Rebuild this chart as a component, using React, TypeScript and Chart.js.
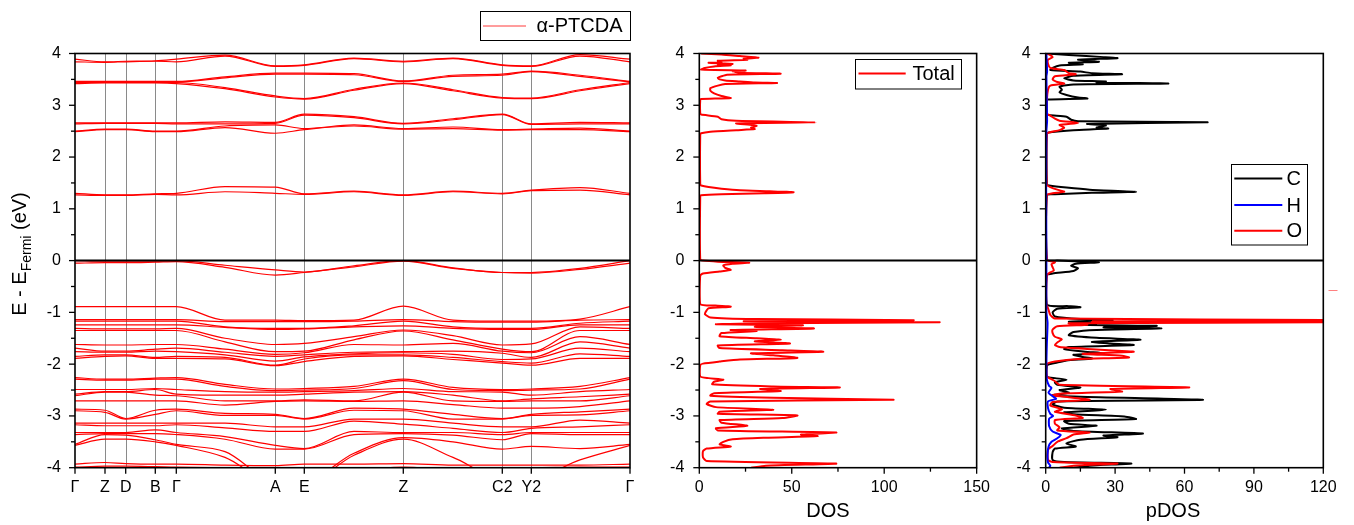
import React, { useEffect, useRef } from 'react';
import { Chart, registerables } from 'chart.js';

Chart.register(...registerables);

const FONT = '"Liberation Sans", Arial, Helvetica, sans-serif';
const RED = '#ff0000';

// ---------- k-path (band structure) ----------
const kPath = [0, 30, 50.7, 80.3, 101.3, 150, 200.3, 229.3, 279, 328.3, 378, 427.3, 456.3, 505, 555];
const kTicks = [0, 30, 50.7, 80.3, 101.3, 200.3, 229.3, 328.3, 427.3, 456.3, 555];
const kLabels = ['Γ', 'Z', 'D', 'B', 'Γ', 'A', 'E', 'Z', 'C2', 'Y2', 'Γ'];
const kLines = [30, 50.7, 80.3, 101.3, 200.3, 229.3, 328.3, 427.3, 456.3];

// conduction bands (energy in eV at each kPath point)
const conductionBands = [
  [1.27, 1.26, 1.26, 1.28, 1.27, 1.33, 1.30, 1.28, 1.33, 1.26, 1.33, 1.29, 1.35, 1.36, 1.27],
  [1.30, 1.27, 1.27, 1.29, 1.30, 1.43, 1.42, 1.29, 1.34, 1.27, 1.34, 1.30, 1.36, 1.41, 1.30],
  [2.49, 2.53, 2.53, 2.49, 2.49, 2.57, 2.46, 2.53, 2.60, 2.54, 2.55, 2.52, 2.53, 2.53, 2.49],
  [2.50, 2.54, 2.54, 2.50, 2.50, 2.60, 2.62, 2.55, 2.62, 2.55, 2.58, 2.53, 2.54, 2.56, 2.50],
  [2.64, 2.65, 2.65, 2.65, 2.64, 2.64, 2.65, 2.81, 2.76, 2.64, 2.72, 2.82, 2.63, 2.64, 2.64],
  [2.66, 2.66, 2.66, 2.66, 2.66, 2.68, 2.67, 2.83, 2.78, 2.65, 2.74, 2.83, 2.64, 2.67, 2.66],
  [3.42, 3.43, 3.43, 3.43, 3.42, 3.32, 3.16, 3.12, 3.29, 3.42, 3.28, 3.14, 3.13, 3.28, 3.42],
  [3.44, 3.44, 3.44, 3.44, 3.44, 3.34, 3.18, 3.13, 3.31, 3.43, 3.30, 3.15, 3.14, 3.30, 3.44],
  [3.45, 3.45, 3.45, 3.45, 3.45, 3.53, 3.60, 3.60, 3.59, 3.46, 3.56, 3.58, 3.65, 3.56, 3.45],
  [3.46, 3.46, 3.46, 3.46, 3.46, 3.55, 3.62, 3.62, 3.61, 3.47, 3.58, 3.60, 3.66, 3.58, 3.46],
  [3.84, 3.83, 3.84, 3.85, 3.84, 3.95, 3.75, 3.77, 3.90, 3.84, 3.90, 3.77, 3.75, 3.95, 3.84],
  [3.89, 3.84, 3.85, 3.86, 3.89, 3.97, 3.76, 3.78, 3.91, 3.85, 3.91, 3.78, 3.76, 3.98, 3.89],
];

const valenceTopBands = [
  [0.00, -0.01, -0.01, -0.01, 0.00, -0.09, -0.18, -0.22, -0.10, 0.00, -0.14, -0.23, -0.23, -0.15, 0.00],
  [-0.05, -0.04, -0.04, -0.03, -0.02, -0.13, -0.28, -0.23, -0.12, -0.01, -0.15, -0.23, -0.24, -0.17, -0.05],
];

const valenceMidBands = [
  [-0.89, -0.89, -0.89, -0.89, -0.89, -1.15, -1.15, -1.16, -1.15, -0.88, -1.15, -1.17, -1.17, -1.13, -0.89],
  [-1.14, -1.14, -1.14, -1.14, -1.14, -1.18, -1.18, -1.18, -1.17, -1.14, -1.18, -1.19, -1.19, -1.15, -1.14],
  [-1.17, -1.17, -1.17, -1.17, -1.17, -1.28, -1.31, -1.31, -1.26, -1.17, -1.28, -1.31, -1.31, -1.21, -1.17],
  [-1.24, -1.24, -1.24, -1.24, -1.24, -1.29, -1.33, -1.32, -1.28, -1.26, -1.31, -1.33, -1.33, -1.24, -1.24],
  [-1.31, -1.32, -1.32, -1.32, -1.31, -1.50, -1.62, -1.60, -1.47, -1.34, -1.45, -1.63, -1.61, -1.28, -1.31],
  [-1.35, -1.35, -1.35, -1.35, -1.35, -1.57, -1.76, -1.75, -1.53, -1.36, -1.53, -1.71, -1.76, -1.35, -1.35],
  [-1.62, -1.63, -1.63, -1.62, -1.62, -1.71, -1.81, -1.78, -1.62, -1.63, -1.60, -1.75, -1.78, -1.47, -1.62],
  [-1.69, -1.75, -1.75, -1.71, -1.69, -1.77, -1.85, -1.82, -1.77, -1.76, -1.75, -1.79, -1.87, -1.57, -1.69],
  [-1.76, -1.77, -1.77, -1.75, -1.76, -1.82, -1.94, -1.86, -1.80, -1.78, -1.81, -1.91, -1.90, -1.69, -1.76],
  [-1.85, -1.82, -1.82, -1.87, -1.85, -1.87, -2.02, -1.90, -1.82, -1.82, -1.87, -1.95, -1.98, -1.80, -1.85],
  [-1.89, -1.85, -1.84, -1.89, -1.89, -1.90, -2.03, -1.95, -1.85, -1.84, -1.91, -1.98, -2.02, -1.89, -1.89],
];

const valenceLowBands = [
  [-2.26, -2.29, -2.29, -2.27, -2.26, -2.39, -2.48, -2.47, -2.43, -2.29, -2.45, -2.49, -2.48, -2.43, -2.26],
  [-2.29, -2.31, -2.31, -2.29, -2.29, -2.43, -2.51, -2.50, -2.47, -2.32, -2.49, -2.51, -2.50, -2.48, -2.29],
  [-2.49, -2.49, -2.49, -2.47, -2.49, -2.53, -2.54, -2.53, -2.51, -2.47, -2.53, -2.54, -2.60, -2.53, -2.49],
  [-2.58, -2.53, -2.53, -2.49, -2.58, -2.60, -2.60, -2.58, -2.54, -2.53, -2.60, -2.71, -2.67, -2.63, -2.58],
  [-2.61, -2.54, -2.54, -2.60, -2.61, -2.71, -2.71, -2.69, -2.71, -2.54, -2.71, -2.72, -2.71, -2.71, -2.61],
  [-2.71, -2.71, -2.71, -2.71, -2.71, -2.79, -2.72, -2.71, -2.72, -2.71, -2.78, -2.85, -2.85, -2.82, -2.71],
  [-2.87, -2.89, -3.05, -2.89, -2.87, -2.95, -2.97, -3.05, -2.85, -2.87, -2.97, -3.05, -2.97, -2.92, -2.87],
  [-2.90, -2.93, -3.06, -2.97, -2.90, -2.99, -2.99, -3.06, -2.89, -2.90, -3.06, -3.06, -2.99, -2.98, -2.90],
  [-3.14, -3.14, -3.14, -3.14, -3.14, -3.14, -3.21, -3.21, -3.06, -3.06, -3.14, -3.21, -3.21, -3.08, -3.14],
  [-3.17, -3.19, -3.19, -3.19, -3.17, -3.23, -3.30, -3.30, -3.10, -3.16, -3.24, -3.32, -3.24, -3.21, -3.17],
  [-3.32, -3.32, -3.32, -3.27, -3.32, -3.40, -3.57, -3.63, -3.30, -3.32, -3.32, -3.36, -3.32, -3.32, -3.32],
  [-3.36, -3.34, -3.34, -3.34, -3.36, -3.45, -3.64, -3.64, -3.36, -3.34, -3.37, -3.46, -3.34, -3.36, -3.36],
  [-3.55, -3.36, -3.37, -3.46, -3.55, -3.69, -4.25, -4.25, -3.72, -3.42, -3.50, -3.64, -3.59, -3.63, -3.55],
  [-3.57, -3.45, -3.45, -3.50, -3.57, -3.80, -4.30, -4.30, -3.76, -3.45, -3.80, -4.20, -4.20, -3.85, -3.57],
  [-3.93, -3.90, -3.92, -3.93, -3.93, -3.95, -3.96, -3.93, -3.93, -3.92, -3.95, -3.95, -3.95, -3.95, -3.93],
  [-3.99, -3.97, -3.97, -3.98, -3.99, -4.00, -4.08, -4.01, -4.05, -3.99, -4.04, -4.00, -4.00, -3.99, -3.99],
];

// ---------- total DOS ----------
const totalE = [4.00, 3.98, 3.95, 3.92, 3.90, 3.88, 3.86, 3.83, 3.82, 3.80, 3.78, 3.77, 3.75, 3.72, 3.69, 3.67, 3.66, 3.63, 3.61, 3.59, 3.56, 3.53, 3.50, 3.48, 3.46, 3.44, 3.43, 3.41, 3.38, 3.33, 3.28, 3.23, 3.18, 3.14, 3.12, 3.10,
  2.84, 2.82, 2.78, 2.73, 2.70, 2.67, 2.65, 2.62, 2.60, 2.57, 2.54, 2.52, 2.49, 2.46, 2.43,
  1.47, 1.45, 1.42, 1.39, 1.36, 1.34, 1.32, 1.30, 1.28, 1.26, 1.24,
  0.02, 0.00, -0.02, -0.04, -0.06, -0.09, -0.14, -0.18, -0.21, -0.25, -0.29,
  -0.84, -0.87, -0.89, -0.92, -0.96, -1.03, -1.10, -1.13, -1.15, -1.17, -1.19, -1.21, -1.23, -1.25, -1.28, -1.31, -1.34, -1.36, -1.40, -1.46, -1.50, -1.53, -1.56, -1.60, -1.64, -1.69, -1.73, -1.76, -1.79, -1.83, -1.88, -1.91, -1.95, -1.99, -2.02,
  -2.24, -2.27, -2.30, -2.34, -2.39, -2.43, -2.45, -2.48, -2.52, -2.56, -2.61, -2.65, -2.69, -2.72, -2.77, -2.83, -2.88, -2.92, -2.96, -2.99, -3.04, -3.08, -3.13, -3.19, -3.24, -3.28, -3.32, -3.36, -3.39, -3.42, -3.45, -3.50, -3.55, -3.59, -3.63, -3.68, -3.80, -3.87, -3.92, -3.96, -4.00];
const totalDOS = [1, 12, 22, 32, 24, 26, 10, 12, 5, 18, 10, 17, 8, 3, 1, 25, 18, 22, 44, 15, 12, 10, 11, 14, 22, 30, 42, 14, 10, 6, 6, 8, 12, 17, 1, 0.5,
  0.5, 1, 10, 12, 20, 63, 20, 29, 31, 28, 30, 20, 6, 1, 0.5,
  0.5, 1, 5, 12, 22, 38, 51, 35, 12, 1, 0.5,
  0.5, 2, 10, 27, 18, 13, 14, 17, 11, 2, 0.5,
  0.5, 10, 17, 5, 4, 3, 6, 30, 116, 24, 130, 40, 9, 56, 30, 62, 17, 31, 12, 11, 31, 44, 30, 49, 10, 11, 45, 67, 28, 40, 53, 22, 11, 2, 0.5,
  0.5, 5, 13, 8, 7, 40, 76, 33, 44, 8, 6, 40, 105, 6, 4, 9, 40, 11, 10, 53, 45, 11, 12, 26, 9, 10, 74, 55, 64, 36, 18, 13, 11, 17, 4, 2, 2, 4, 74, 36, 28];

// ---------- projected DOS ----------
const carbonE = [4.00, 3.97, 3.93, 3.91, 3.88, 3.84, 3.82, 3.79, 3.77, 3.72, 3.68, 3.65, 3.62, 3.60, 3.57, 3.52, 3.48, 3.46, 3.44, 3.42, 3.40, 3.36, 3.30, 3.25, 3.20, 3.15, 3.13, 3.11, 3.09,
  2.84, 2.81, 2.78, 2.72, 2.69, 2.67, 2.64, 2.61, 2.57, 2.55, 2.52, 2.48, 2.45,
  1.47, 1.45, 1.41, 1.37, 1.33, 1.31, 1.28, 1.26,
  0.02, 0.00, -0.03, -0.06, -0.10, -0.15, -0.20, -0.25, -0.28,
  -0.85, -0.88, -0.90, -0.93, -1.00, -1.08, -1.13, -1.15, -1.18, -1.21, -1.24, -1.26, -1.29, -1.31, -1.34, -1.38, -1.44, -1.49, -1.53, -1.57, -1.60, -1.63, -1.67, -1.71, -1.76, -1.79, -1.82, -1.86, -1.89, -1.93, -1.97, -2.01, -2.03,
  -2.24, -2.27, -2.30, -2.35, -2.40, -2.45, -2.50, -2.55, -2.60, -2.63, -2.69, -2.72, -2.78, -2.84, -2.88, -2.93, -2.97, -3.01, -3.06, -3.10, -3.15, -3.19, -3.24, -3.29, -3.34, -3.38, -3.41, -3.46, -3.53, -3.59, -3.63, -3.70, -3.85, -3.89, -3.92, -3.96, -4.00];
const carbonDOS = [0.5, 10, 25, 31, 14, 23, 10, 16, 6, 3, 2, 15, 20, 33, 12, 8, 12, 26, 22, 53, 12, 6, 7, 6, 9, 14, 18, 1, 0.5,
  0.5, 1.5, 9, 11, 14, 70, 18, 26, 22, 27, 12, 2, 0.5,
  0.5, 1.5, 9, 19, 39, 20, 4, 0.5,
  0.5, 5, 23, 13, 11, 14, 12, 3, 0.5,
  0.5, 10, 15, 5, 3, 4, 15, 29, 10, 22, 15, 48, 25, 50, 22, 12, 10, 22, 41, 20, 28, 38, 10, 8, 17, 25, 12, 16, 20, 9, 5, 1, 0.5,
  0.5, 4, 9, 4, 5, 15, 6, 10, 3, 15, 68, 5, 3, 8, 26, 8, 12, 34, 39, 8, 10, 22, 7, 12, 42, 25, 31, 15, 9, 13, 4, 3, 3, 8, 37, 19, 12];

const hydrogenE = [4.0, 3.65, 3.55, 2.7, 2.5, 1.4, 0, -1.0, -1.2, -1.6, -2.0, -2.3, -2.42, -2.46, -2.55, -2.62, -2.67, -2.72, -2.85, -2.96, -3.0, -3.05, -3.2, -3.3, -3.37, -3.43, -3.5, -3.6, -3.75, -3.9, -3.96, -4.0];
const hydrogenDOS = [0.3, 0.6, 0.3, 0.6, 0.3, 0.2, 0.3, 0.3, 0.8, 0.5, 0.3, 0.5, 1.5, 2.5, 1.2, 3, 4.5, 1, 1, 2, 3.2, 1.5, 1.5, 3, 6.5, 5, 2.5, 1.2, 0.8, 1, 2, 1.5];

const oxygenE = [4.00, 3.97, 3.93, 3.88, 3.80, 3.72, 3.68, 3.62, 3.60, 3.56, 3.50, 3.45, 3.42, 3.38, 3.30, 3.10,
  2.84, 2.80, 2.74, 2.70, 2.66, 2.62, 2.57, 2.52, 2.48, 2.45,
  1.46, 1.42, 1.37, 1.33, 1.30, 1.27,
  0.02, -0.03, -0.07, -0.13, -0.19, -0.24, -0.28,
  -0.85, -0.92, -1.05, -1.12, -1.15, -1.17, -1.19, -1.21, -1.24, -1.27, -1.33, -1.40, -1.47, -1.52, -1.58, -1.63, -1.67, -1.71, -1.74, -1.76, -1.80, -1.84, -1.87, -1.90, -1.95, -2.00,
  -2.24, -2.28, -2.33, -2.40, -2.45, -2.48, -2.53, -2.57, -2.60, -2.64, -2.69, -2.73, -2.80, -2.87, -2.92, -2.99, -3.04, -3.08, -3.15, -3.22, -3.28, -3.32, -3.36, -3.43, -3.50, -3.58, -3.65, -3.85, -3.89, -3.92, -3.96, -4.00];
const oxygenDOS = [0.5, 2, 3, 1, 1, 2, 8, 10, 13, 4, 3, 5, 8, 2, 1, 0.5,
  0.5, 2, 4, 6, 14, 6, 8, 6, 2, 0.5,
  0.5, 2, 5, 8, 3, 0.5,
  0.5, 4, 2.5, 3, 3.5, 1.5, 0.5,
  0.3, 1, 2, 4, 135, 20, 135, 10, 18, 5, 3, 3, 4, 7, 5, 4, 6, 20, 31, 38, 16, 33, 36, 14, 4, 0.5,
  0.5, 2, 4, 6, 62, 28, 33, 6, 3, 10, 19, 3, 2, 7, 4, 13, 16, 4, 4, 6, 5, 19, 12, 9, 5, 3, 1, 1, 3, 31, 12, 6];

const energyTicks = [-4, -3, -2, -1, 0, 1, 2, 3, 4];
const dosTicks = [0, 50, 100, 150];
const dosMinor = [25, 75, 125];
const pdosTicks = [0, 30, 60, 90, 120];
const pdosMinor = [15, 45, 75, 105];

// ---------- helpers ----------
function bandSets(bands: number[][]) {
  return bands.map((b) => ({
    data: b.map((e, i) => ({ x: kPath[i], y: e })),
    borderColor: RED,
    borderWidth: 1.2,
    pointRadius: 0,
    fill: false,
    cubicInterpolationMode: 'monotone' as const,
  }));
}

function dosSet(es: number[], vs: number[], color: string, order: number) {
  const n = Math.min(es.length, vs.length);
  const data = [] as { x: number; y: number }[];
  for (let i = 0; i < n; i++) data.push({ x: vs[i], y: es[i] });
  return { data, borderColor: color, borderWidth: 2, pointRadius: 0, fill: false, tension: 0.2, order };
}

function seg(ctx: CanvasRenderingContext2D, x1: number, y1: number, x2: number, y2: number) {
  ctx.beginPath();
  ctx.moveTo(x1, y1);
  ctx.lineTo(x2, y2);
  ctx.stroke();
}

type Spec = {
  xMajor: number[];
  xMinor: number[];
  vLines?: number[];
  extra?: (ctx: CanvasRenderingContext2D) => void;
};

function decor(spec: Spec) {
  return {
    id: 'decor',
    beforeDatasetsDraw(chart: any) {
      const { ctx, chartArea: a, scales } = chart;
      if (spec.vLines) {
        ctx.save();
        ctx.strokeStyle = '#8a8a8a';
        ctx.lineWidth = 1;
        for (const v of spec.vLines) {
          const px = Math.round(scales.x.getPixelForValue(v)) + 0.5;
          seg(ctx, px, a.top, px, a.bottom);
        }
        ctx.restore();
      }
    },
    afterDatasetsDraw(chart: any) {
      const { ctx, chartArea: a, scales } = chart;
      ctx.save();
      ctx.strokeStyle = '#000';
      const y0 = scales.y.getPixelForValue(0);
      ctx.lineWidth = 2;
      seg(ctx, a.left, y0, a.right, y0);
      ctx.lineWidth = 1.6;
      ctx.strokeRect(a.left, a.top, a.right - a.left, a.bottom - a.top);
      ctx.lineWidth = 1.3;
      for (let v = -4; v <= 4.001; v += 0.5) {
        const py = scales.y.getPixelForValue(v);
        const len = Math.abs(v - Math.round(v)) < 1e-6 ? 6 : 4;
        seg(ctx, a.left - len, py, a.left, py);
      }
      for (const v of spec.xMajor) {
        const px = scales.x.getPixelForValue(v);
        seg(ctx, px, a.bottom, px, a.bottom + 6);
      }
      for (const v of spec.xMinor) {
        const px = scales.x.getPixelForValue(v);
        seg(ctx, px, a.bottom, px, a.bottom + 4);
      }
      ctx.restore();
      if (spec.extra) {
        ctx.save();
        spec.extra(ctx);
        ctx.restore();
      }
    },
  };
}

const tickFont = { family: FONT, size: 16 };

function yAxis(width: number, pad: number) {
  return {
    type: 'linear' as const,
    min: -4,
    max: 4,
    afterFit: (s: any) => { s.width = width; },
    afterBuildTicks: (s: any) => { s.ticks = energyTicks.map((v) => ({ value: v })); },
    ticks: { font: tickFont, color: '#000', padding: pad },
    grid: { display: false, drawTicks: false },
    border: { display: false },
  };
}

function xAxis(min: number, max: number, ticks: number[], labels: string[] | null) {
  return {
    type: 'linear' as const,
    min,
    max,
    afterFit: (s: any) => { s.height = 57.3; },
    afterBuildTicks: (s: any) => { s.ticks = ticks.map((v) => ({ value: v })); },
    ticks: {
      font: tickFont,
      color: '#000',
      padding: 10,
      autoSkip: false,
      maxRotation: 0,
      callback: (v: any, i: number) => (labels ? labels[i] : String(v)),
    },
    grid: { display: false, drawTicks: false },
    border: { display: false },
  };
}

const baseOpts = {
  responsive: false,
  animation: false as const,
  events: [] as any[],
  plugins: { legend: { display: false }, tooltip: { enabled: false } },
};

function bandConfig(): any {
  return {
    type: 'line',
    data: {
      datasets: [
        ...bandSets(conductionBands),
        ...bandSets(valenceTopBands),
        ...bandSets(valenceMidBands),
        ...bandSets(valenceLowBands),
      ],
    },
    options: {
      ...baseOpts,
      layout: { padding: { top: 53.5, right: 15, left: 0, bottom: 0 } },
      scales: { x: xAxis(0, 555, kTicks, kLabels), y: yAxis(75, 14) },
    },
    plugins: [
      decor({
        xMajor: kTicks,
        xMinor: [],
        vLines: kLines,
        extra: (ctx) => {
          // legend
          ctx.strokeStyle = '#000';
          ctx.lineWidth = 1;
          ctx.strokeRect(480.5, 11.5, 150, 29);
          ctx.strokeStyle = '#ff3a3a';
          ctx.lineWidth = 1;
          seg(ctx, 483, 26, 526, 26);
          ctx.fillStyle = '#000';
          ctx.font = `20px ${FONT}`;
          ctx.textAlign = 'left';
          ctx.textBaseline = 'middle';
          ctx.fillText('α-PTCDA', 536.5, 26.5);
          // y title
          ctx.textBaseline = 'alphabetic';
          ctx.font = `20px ${FONT}`;
          const w1 = ctx.measureText('E - E').width;
          const w3 = ctx.measureText(' (eV)').width;
          ctx.font = `14px ${FONT}`;
          const w2 = ctx.measureText('Fermi').width;
          const total = w1 + w2 + w3;
          ctx.translate(25.5, 254 + total / 2);
          ctx.rotate(-Math.PI / 2);
          ctx.font = `20px ${FONT}`;
          ctx.fillText('E - E', 0, 0);
          ctx.font = `14px ${FONT}`;
          ctx.fillText('Fermi', w1, 5);
          ctx.font = `20px ${FONT}`;
          ctx.fillText(' (eV)', w1 + w2, 0);
        },
      }),
    ],
  };
}

function dosConfig(): any {
  return {
    type: 'line',
    data: { datasets: [dosSet(totalE, totalDOS, RED, 0)] },
    options: {
      ...baseOpts,
      layout: { padding: { top: 53.5, right: 23.3, left: 0, bottom: 0 } },
      scales: { x: xAxis(0, 150, dosTicks, null), y: yAxis(54.3, 15) },
    },
    plugins: [
      decor({
        xMajor: dosTicks,
        xMinor: dosMinor,
        extra: (ctx) => {
          ctx.strokeStyle = '#000';
          ctx.lineWidth = 1;
          ctx.strokeRect(210.5, 59.5, 106, 29.5);
          ctx.strokeStyle = RED;
          ctx.lineWidth = 2;
          seg(ctx, 213.5, 73.5, 260.7, 73.5);
          ctx.fillStyle = '#000';
          ctx.font = `20px ${FONT}`;
          ctx.textAlign = 'left';
          ctx.textBaseline = 'middle';
          ctx.fillText('Total', 267.5, 74.5);
          ctx.textAlign = 'center';
          ctx.textBaseline = 'alphabetic';
          ctx.fillText('DOS', 183, 516.5);
        },
      }),
    ],
  };
}

function pdosConfig(): any {
  return {
    type: 'line',
    data: {
      datasets: [
        dosSet(hydrogenE, hydrogenDOS, '#0000ff', 0),
        dosSet(oxygenE, oxygenDOS, RED, 1),
        dosSet(carbonE, carbonDOS, '#000000', 2),
      ],
    },
    options: {
      ...baseOpts,
      layout: { padding: { top: 53.5, right: 30.7, left: 0, bottom: 0 } },
      scales: { x: xAxis(0, 120, pdosTicks, null), y: yAxis(45.7, 15) },
    },
    plugins: [
      decor({
        xMajor: pdosTicks,
        xMinor: pdosMinor,
        extra: (ctx) => {
          ctx.strokeStyle = '#000';
          ctx.lineWidth = 1;
          ctx.strokeRect(231.5, 164.5, 76, 80.5);
          const rows: [string, string, number][] = [
            ['C', '#000000', 178.5],
            ['H', '#0000ff', 205],
            ['O', RED, 230.7],
          ];
          ctx.font = `20px ${FONT}`;
          ctx.textAlign = 'left';
          ctx.textBaseline = 'middle';
          for (const [t, c, y] of rows) {
            ctx.strokeStyle = c;
            ctx.lineWidth = 2;
            seg(ctx, 234.3, y, 282.3, y);
            ctx.fillStyle = '#000';
            ctx.fillText(t, 286.5, y + 1);
          }
          ctx.strokeStyle = '#ff8080';
          ctx.lineWidth = 1;
          seg(ctx, 328.5, 290.5, 337.5, 290.5);
          ctx.fillStyle = '#000';
          ctx.textAlign = 'center';
          ctx.textBaseline = 'alphabetic';
          ctx.fillText('pDOS', 173, 516.5);
        },
      }),
    ],
  };
}

function Panel({ left, width, make }: { left: number; width: number; make: () => any }) {
  const ref = useRef<HTMLCanvasElement>(null);
  useEffect(() => {
    const chart = new Chart(ref.current as HTMLCanvasElement, make());
    return () => chart.destroy();
  }, []);
  return (
    <canvas
      ref={ref}
      width={width}
      height={525}
      style={{ position: 'absolute', left, top: 0, width, height: 525 }}
    />
  );
}

export default function App() {
  return (
    <div style={{ position: 'absolute', left: 0, top: 0, width: 1354, height: 525, background: '#fff', overflow: 'hidden' }}>
      <Panel left={0} width={645} make={bandConfig} />
      <Panel left={645} width={355} make={dosConfig} />
      <Panel left={1000} width={354} make={pdosConfig} />
    </div>
  );
}
